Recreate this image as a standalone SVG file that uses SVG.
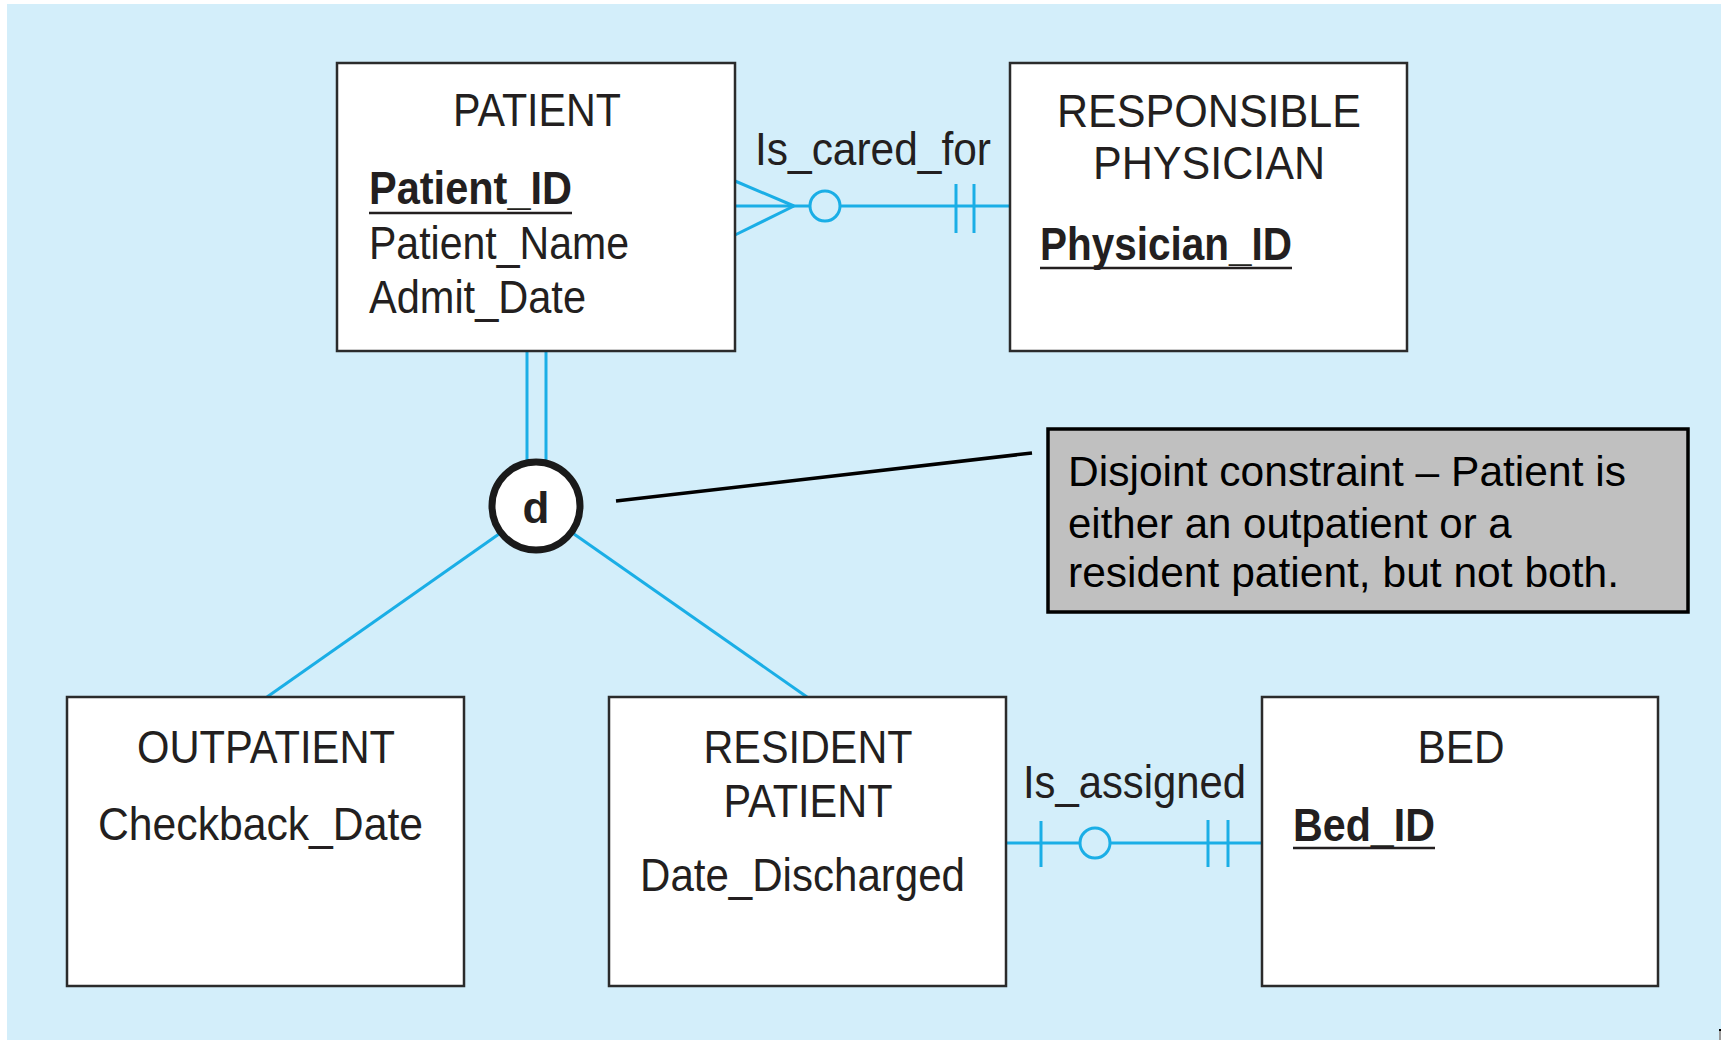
<svg xmlns="http://www.w3.org/2000/svg" width="1721" height="1040" viewBox="0 0 1721 1040">
<style>
.ent{fill:#ffffff;stroke:#2b2b2b;stroke-width:2.5}
.t{font-family:"Liberation Sans",Arial,sans-serif;font-size:46px;fill:#231f20}
.b{font-weight:bold}
.ul{stroke:#231f20;stroke-width:2.5}
.rel{stroke:#1aaee6;stroke-width:3;fill:none}
.note{font-family:"Liberation Sans",Arial,sans-serif;font-size:42px;fill:#000}
</style>
<rect x="0" y="0" width="1721" height="1040" fill="#ffffff"/>
<rect x="7" y="4" width="1714" height="1036" fill="#d3eefa"/>
<rect x="1719" y="1029" width="2" height="11" fill="#9a9a9a"/>
<rect x="1719" y="1029" width="2" height="2" fill="#000"/>

<g id="connectors">
  <line class="rel" x1="735" y1="206" x2="1010" y2="206"/>
  <line class="rel" x1="735" y1="181" x2="794" y2="206"/>
  <line class="rel" x1="735" y1="235" x2="794" y2="206"/>
  <circle class="rel" cx="825" cy="206" r="15" style="fill:#d3eefa"/>
  <line class="rel" x1="956" y1="184" x2="956" y2="233"/>
  <line class="rel" x1="974" y1="184" x2="974" y2="233"/>
  <line class="rel" x1="1006" y1="843" x2="1262" y2="843"/>
  <line class="rel" x1="1041" y1="821" x2="1041" y2="867"/>
  <circle class="rel" cx="1095" cy="843" r="15" style="fill:#d3eefa"/>
  <line class="rel" x1="1208" y1="820" x2="1208" y2="867"/>
  <line class="rel" x1="1228" y1="820" x2="1228" y2="867"/>
  <line class="rel" x1="527" y1="352" x2="527" y2="465"/>
  <line class="rel" x1="546" y1="352" x2="546" y2="465"/>
  <line class="rel" x1="499" y1="534" x2="267" y2="697"/>
  <line class="rel" x1="574" y1="534" x2="807" y2="697"/>
  <line x1="616" y1="501" x2="1032" y2="453" stroke="#000" stroke-width="3.5"/>
</g>

<g id="patient">
  <rect class="ent" x="337" y="63" width="398" height="288"/>
  <text class="t" x="537" y="126" text-anchor="middle" textLength="168" lengthAdjust="spacingAndGlyphs">PATIENT</text>
  <text class="t b" x="369" y="204" textLength="203" lengthAdjust="spacingAndGlyphs">Patient_ID</text>
  <line class="ul" x1="369" y1="213" x2="572" y2="213"/>
  <text class="t" x="369" y="259" textLength="260" lengthAdjust="spacingAndGlyphs">Patient_Name</text>
  <text class="t" x="369" y="313" textLength="217" lengthAdjust="spacingAndGlyphs">Admit_Date</text>
</g>

<g id="physician">
  <rect class="ent" x="1010" y="63" width="397" height="288"/>
  <text class="t" x="1209" y="127" text-anchor="middle" textLength="304" lengthAdjust="spacingAndGlyphs">RESPONSIBLE</text>
  <text class="t" x="1209" y="179" text-anchor="middle" textLength="232" lengthAdjust="spacingAndGlyphs">PHYSICIAN</text>
  <text class="t b" x="1040" y="260" textLength="252" lengthAdjust="spacingAndGlyphs">Physician_ID</text>
  <line class="ul" x1="1040" y1="268" x2="1292" y2="268"/>
</g>

<g id="label-is-cared-for">
  <text class="t" x="755" y="165" textLength="236" lengthAdjust="spacingAndGlyphs">Is_cared_for</text>
</g>

<g id="disjoint">
  <circle cx="536" cy="506" r="44" fill="#ffffff" stroke="#1a1a1a" stroke-width="7"/>
  <text class="t b" x="536" y="523" text-anchor="middle" style="font-size:44px">d</text>
</g>

<g id="note">
  <rect x="1048" y="429" width="640" height="183" fill="#c0c0c0" stroke="#000" stroke-width="3.5"/>
  <text class="note" x="1068" y="486" textLength="558" lengthAdjust="spacingAndGlyphs">Disjoint constraint – Patient is</text>
  <text class="note" x="1068" y="538">either an outpatient or a</text>
  <text class="note" x="1068" y="587" textLength="551" lengthAdjust="spacingAndGlyphs">resident patient, but not both.</text>
</g>

<g id="outpatient">
  <rect class="ent" x="67" y="697" width="397" height="289"/>
  <text class="t" x="266" y="763" text-anchor="middle" textLength="258" lengthAdjust="spacingAndGlyphs">OUTPATIENT</text>
  <text class="t" x="98" y="840" textLength="325" lengthAdjust="spacingAndGlyphs">Checkback_Date</text>
</g>

<g id="resident-patient">
  <rect class="ent" x="609" y="697" width="397" height="289"/>
  <text class="t" x="808" y="763" text-anchor="middle" textLength="209" lengthAdjust="spacingAndGlyphs">RESIDENT</text>
  <text class="t" x="808" y="817" text-anchor="middle" textLength="169" lengthAdjust="spacingAndGlyphs">PATIENT</text>
  <text class="t" x="640" y="891" textLength="325" lengthAdjust="spacingAndGlyphs">Date_Discharged</text>
</g>

<g id="label-is-assigned">
  <text class="t" x="1023" y="798" textLength="223" lengthAdjust="spacingAndGlyphs">Is_assigned</text>
</g>

<g id="bed">
  <rect class="ent" x="1262" y="697" width="396" height="289"/>
  <text class="t" x="1461" y="763" text-anchor="middle" textLength="87" lengthAdjust="spacingAndGlyphs">BED</text>
  <text class="t b" x="1293" y="841" textLength="142" lengthAdjust="spacingAndGlyphs">Bed_ID</text>
  <line class="ul" x1="1293" y1="848" x2="1435" y2="848"/>
</g>
</svg>
